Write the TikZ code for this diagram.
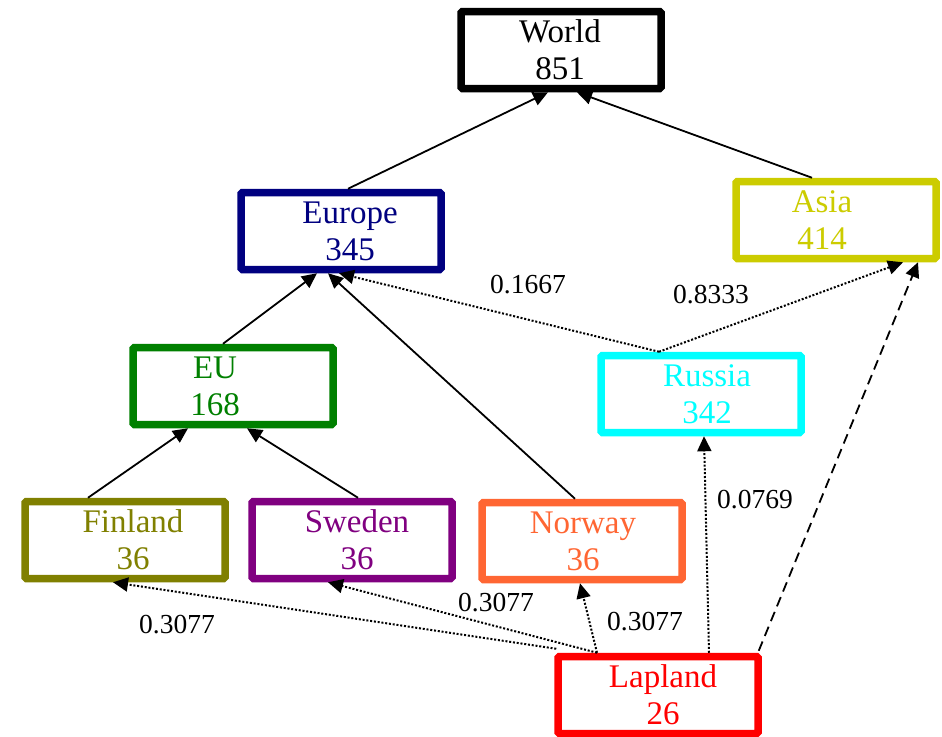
\documentclass[tikz,border=0pt]{standalone}
\usepackage{fontspec}
\setmainfont{Liberation Serif}
\usetikzlibrary{arrows.meta}
\definecolor{cnavy}{RGB}{0,0,128}
\definecolor{casia}{RGB}{204,204,0}
\definecolor{cgreen}{RGB}{0,128,0}
\definecolor{ccyan}{RGB}{0,255,255}
\definecolor{colive}{RGB}{128,128,0}
\definecolor{cpurple}{RGB}{128,0,128}
\definecolor{cnorway}{RGB}{255,102,51}
\definecolor{cred}{RGB}{255,0,0}
\tikzset{
  box/.style={draw, line width=7.5pt, rounded corners=1.5pt, minimum width=200pt, minimum height=77pt, inner sep=0pt, fill=white},
  boxtext/.style={align=center, font=\fontsize{33}{37}\selectfont, inner sep=0pt},
  lbl/.style={font=\fontsize{27.5}{30}\selectfont, inner sep=0pt},
  tip/.style={-{Triangle[length=15pt,width=14pt]}},
  solidedge/.style={tip, line width=1.8pt},
  dotedge/.style={tip, line width=2pt, dash pattern=on 2pt off 1.8pt},
  dashedge/.style={tip, line width=1.8pt, dash pattern=on 10pt off 6pt}
}
\begin{document}
\begin{tikzpicture}[x=1pt,y=-1pt]
\useasboundingbox (0,0) rectangle (942,736);
% boxes
\node[box, draw=black]   (world)   at (561,50)  {};
\node[box, draw=cnavy]   (europe)  at (341,231) {};
\node[box, draw=casia]   (asia)    at (836,220) {};
\node[box, draw=cgreen]  (eu)      at (233,386) {};
\node[box, draw=ccyan]   (russia)  at (701,394) {};
\node[box, draw=colive]  (finland) at (125,540) {};
\node[box, draw=cpurple] (sweden)  at (352,540) {};
\node[box, draw=cnorway] (norway)  at (582,541) {};
\node[box, draw=cred]    (lapland) at (658,695) {};
% box texts
\node[boxtext, text=black]   (tworld)   at (560,50)  {World\\851};
\node[boxtext, text=cnavy]   (teurope)  at (350,231) {Europe\\345};
\node[boxtext, text=casia]   (tasia)    at (822,220) {Asia\\414};
\node[boxtext, text=cgreen]  (teu)      at (215,386) {EU\\168};
\node[boxtext, text=ccyan]   (trussia)  at (707,394) {Russia\\342};
\node[boxtext, text=colive]  (tfinland) at (133,540) {Finland\\36};
\node[boxtext, text=cpurple] (tsweden)  at (357,540) {Sweden\\36};
\node[boxtext, text=cnorway] (tnorway)  at (583,541) {Norway\\36};
\node[boxtext, text=cred]    (tlapland) at (663,695) {Lapland\\26};
% solid edges
\draw[solidedge] ([xshift=7pt]europe.north) -- ([xshift=-13pt]world.south);
\draw[solidedge] ([xshift=-24pt]asia.north) -- ([xshift=16pt]world.south);
\draw[solidedge] ([xshift=-10pt]eu.north) -- ([xshift=-24pt]europe.south);
\draw[solidedge] ([xshift=-7pt]norway.north) -- ([xshift=-13pt]europe.south);
\draw[solidedge] ([xshift=-37pt]finland.north) -- ([xshift=-45pt]eu.south);
\draw[solidedge] ([xshift=6pt]sweden.north) -- ([xshift=14pt]eu.south);
% dotted edges
\draw[dotedge] ([xshift=-42pt]russia.north) -- ([xshift=-2pt]europe.south);
\draw[dotedge] ([xshift=-42pt]russia.north) -- ([xshift=67pt]asia.south);
\draw[dotedge] ([xshift=2pt,yshift=4pt]lapland.north west) -- ([xshift=-12pt]finland.south);
\draw[dotedge] ([xshift=-61pt]lapland.north) -- ([xshift=-24pt]sweden.south);
\draw[dotedge] ([xshift=-61pt]lapland.north) -- ([xshift=-2pt]norway.south);
\draw[dotedge] ([xshift=51pt]lapland.north) -- ([xshift=3pt]russia.south);
% dashed edge
\draw[dashedge] ([xshift=-3pt,yshift=2pt]lapland.north east) -- ([xshift=82pt]asia.south);
% labels
\node[lbl] (l1) at (528,285) {0.1667};
\node[lbl] (l2) at (711,295) {0.8333};
\node[lbl] (l3) at (755,500) {0.0769};
\node[lbl] (l4) at (177,625) {0.3077};
\node[lbl] (l5) at (496,603) {0.3077};
\node[lbl] (l6) at (645,622) {0.3077};
\end{tikzpicture}
\end{document}
